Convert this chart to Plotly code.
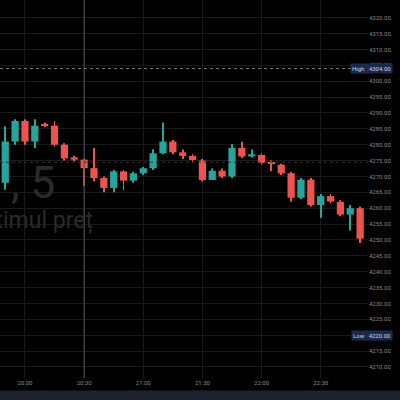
import pandas as pd
import plotly.graph_objects as go

# 5-minute candles, 19:50 -> 22:50
times = pd.date_range("2024-01-01 19:50", periods=37, freq="5min")
opens = [4268, 4281, 4287.5, 4281, 4286.2, 4286, 4280, 4276, 4275.3, 4272.6,
         4269.5, 4266.4, 4271.6, 4268.7, 4271, 4272.6, 4277.3, 4281, 4277.6, 4276.5,
         4275, 4268.9, 4271.8, 4270, 4279, 4276.3, 4276.8, 4274.3, 4273.7, 4271,
         4263.3, 4269, 4261, 4263.8, 4262, 4258, 4260]
closes = [4281, 4287.5, 4281, 4286, 4285.9, 4280, 4275.7, 4275.3, 4272.6, 4269.5,
          4266.4, 4271.6, 4268.7, 4271, 4272.6, 4277.3, 4281, 4277.6, 4276.5, 4275.2,
          4268.9, 4271.8, 4270, 4279, 4276.3, 4277, 4274.2, 4274, 4271, 4263.3,
          4269, 4261, 4263.8, 4262.1, 4258, 4260, 4250.4]
highs = [4285.8, 4288, 4288, 4288, 4287, 4287.5, 4280.5, 4276.5, 4275.6, 4279,
         4270, 4272, 4272, 4271.5, 4273, 4278.6, 4287, 4281.5, 4278.5, 4277,
         4275.5, 4272.5, 4272.5, 4280.2, 4280.9, 4278.5, 4277.3, 4275, 4274, 4271.5,
         4269.5, 4269.5, 4264.5, 4264.5, 4262.5, 4261, 4260.5]
lows = [4265.8, 4280, 4280, 4279, 4285.5, 4279.5, 4275, 4274.8, 4267, 4268.5,
        4265, 4265, 4265.6, 4268, 4270.5, 4272, 4277, 4277, 4275.5, 4274.5,
        4268.5, 4270.5, 4269.5, 4269.5, 4275.8, 4276, 4273.8, 4271.7, 4270.5, 4262,
        4262.8, 4260.5, 4257, 4261.5, 4257.5, 4253, 4249]

tick_vals = list(range(4210, 4325, 5))
time_ticks = pd.date_range("2024-01-01 20:00", periods=6, freq="30min")
time_labels = ["20:00", "20:30", "21:00", "21:30", "22:00", "22:30"]

UP, DOWN = "#26a69a", "#ef5350"
colors = [UP if c >= o else DOWN for o, c in zip(opens, closes)]
body_base = [min(o, c) for o, c in zip(opens, closes)]
body_len = [max(abs(c - o), 0.35) for o, c in zip(opens, closes)]

fig = go.Figure()
# wicks
fig.add_trace(go.Bar(x=times, base=lows, y=[h - l for h, l in zip(highs, lows)],
                     width=25000, marker=dict(color=colors, line_width=0), hoverinfo="skip"))
# bodies
fig.add_trace(go.Bar(x=times, base=body_base, y=body_len, width=220000,
                     marker=dict(color=colors, line_width=0)))

# crosshair / price lines
fig.add_vline(x=pd.Timestamp("2024-01-01 20:30"), line=dict(color="#555", width=1))
fig.add_hline(y=4304, line=dict(color="#777", width=1, dash="dot"))
fig.add_hline(y=4274.5, line=dict(color="#333", width=1, dash="dot"))

# bottom bar
fig.add_shape(type="rect", xref="paper", yref="paper", x0=-0.1, x1=1.2, y0=-0.09, y1=-0.033,
              fillcolor="#1e222d", line_width=0, layer="above")

# watermark
fig.add_annotation(text=", 5", xref="paper", yref="y", x=0.155, y=4268, xanchor="right",
                   showarrow=False, font=dict(size=44, color="#2a2a2a", family="Roboto"))
fig.add_annotation(text="Ultimul preț", xref="paper", yref="y", x=0.258, y=4256, xanchor="right",
                   showarrow=False, font=dict(size=23, color="#2a2a2a", family="Roboto"))

# high / low labels
for lbl, val in [("High", 4304), ("Low", 4220)]:
    fig.add_annotation(text=f"{lbl}&nbsp;&nbsp;&nbsp;{val:.2f}", xref="paper", yref="y", x=1.068, y=val,
                       xanchor="right", showarrow=False, bgcolor="#1c2a4a",
                       font=dict(size=6, color="#c8d0e0"), borderpad=1)

fig.update_layout(
    width=400, height=400,
    margin=dict(l=0, r=32, t=0, b=22),
    paper_bgcolor="#000", plot_bgcolor="#000",
    barmode="overlay", showlegend=False,
    font=dict(family="Roboto", size=6, color="#888"),
    xaxis=dict(type="date", range=["2024-01-01 19:47:20", "2024-01-01 22:54:00"],
               tickvals=time_ticks, ticktext=time_labels, gridcolor="#1a1a1a", showline=False,
               zeroline=False, ticks=""),
    yaxis=dict(side="right", range=[4206.5, 4325.6], tickvals=tick_vals,
               ticktext=[f"{v:.2f}" for v in tick_vals], gridcolor="#1a1a1a", zeroline=False),
)

fig.write_html("out.html", config={"displayModeBar": False},
               post_script="document.body.style.margin='0';")
